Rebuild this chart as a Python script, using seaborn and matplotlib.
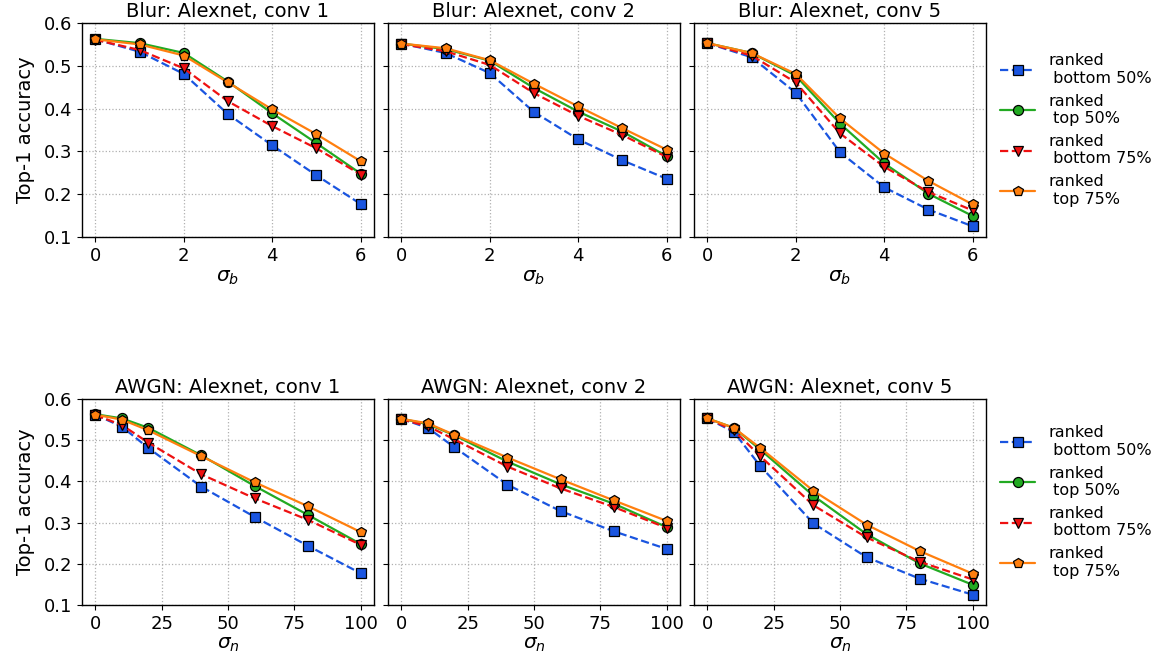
import matplotlib
matplotlib.use("Agg")
import matplotlib.pyplot as plt
import seaborn as sns
import pandas as pd

# Degradation levels
sigma_blur = [0, 1, 2, 3, 4, 5, 6]
sigma_noise = [0, 10, 20, 40, 60, 80, 100]

layers = ["conv 1", "conv 2", "conv 5"]
series_names = ["ranked\n bottom 50%", "ranked\n top 50%", "ranked\n bottom 75%", "ranked\n top 75%"]

# Top-1 accuracy per layer (order: bottom 50%, top 50%, bottom 75%, top 75%)
conv1_bottom50 = [0.562, 0.533, 0.481, 0.387, 0.314, 0.244, 0.177]
conv1_top50 = [0.563, 0.553, 0.530, 0.463, 0.389, 0.319, 0.248]
conv1_bottom75 = [0.561, 0.537, 0.494, 0.417, 0.359, 0.307, 0.246]
conv1_top75 = [0.562, 0.550, 0.524, 0.461, 0.398, 0.340, 0.277]

conv2_bottom50 = [0.552, 0.530, 0.483, 0.392, 0.328, 0.279, 0.236]
conv2_top50 = [0.552, 0.539, 0.512, 0.448, 0.393, 0.346, 0.289]
conv2_bottom75 = [0.551, 0.534, 0.502, 0.436, 0.383, 0.338, 0.287]
conv2_top75 = [0.552, 0.541, 0.513, 0.458, 0.405, 0.354, 0.304]

conv5_bottom50 = [0.553, 0.520, 0.437, 0.298, 0.216, 0.164, 0.125]
conv5_top50 = [0.553, 0.530, 0.477, 0.365, 0.272, 0.201, 0.149]
conv5_bottom75 = [0.553, 0.524, 0.461, 0.342, 0.264, 0.205, 0.162]
conv5_top75 = [0.553, 0.530, 0.481, 0.377, 0.295, 0.231, 0.176]

acc = {
    "conv 1": [conv1_bottom50, conv1_top50, conv1_bottom75, conv1_top75],
    "conv 2": [conv2_bottom50, conv2_top50, conv2_bottom75, conv2_top75],
    "conv 5": [conv5_bottom50, conv5_top50, conv5_bottom75, conv5_top75],
}

colors = ["#1a55e0", "#22aa22", "#ee1111", "#ff7f0e"]
markers = ["s", "o", "v", "p"]
linestyles = ["--", "-", "--", "-"]
msizes = [7.2, 7.2, 7.8, 7.8]

sns.set_style("ticks")
plt.rcParams["font.family"] = ["DejaVu Sans"]
plt.rcParams["mathtext.fontset"] = "dejavusans"
for key in ["text.color", "axes.labelcolor", "xtick.color", "ytick.color"]:
    plt.rcParams[key] = "black"

W, H = 1157, 659
fig = plt.figure(figsize=(W / 100, H / 100), dpi=100)

col_px = [(82, 374), (388, 680), (694, 986)]
row_px = [(23, 237), (399, 605)]
rows = [("Blur", sigma_blur, r"$\sigma_b$", [0, 2, 4, 6]),
        ("AWGN", sigma_noise, r"$\sigma_n$", [0, 25, 50, 75, 100])]

for r, (kind, xs, xlabel, xticks) in enumerate(rows):
    top, bot = row_px[r]
    for c, layer in enumerate(layers):
        l, rr = col_px[c]
        ax = fig.add_axes([l / W, 1 - bot / H, (rr - l) / W, (bot - top) / H])
        for k, name in enumerate(series_names):
            df = pd.DataFrame({"sigma": xs, "acc": acc[layer][k]})
            sns.lineplot(data=df, x="sigma", y="acc", ax=ax, legend=False,
                         color=colors[k], marker=markers[k], linestyle=linestyles[k],
                         markersize=msizes[k], markeredgecolor="black",
                         markeredgewidth=0.9, linewidth=1.6, label=name)
        ax.set_ylim(0.1, 0.6)
        ax.set_yticks([0.1, 0.2, 0.3, 0.4, 0.5, 0.6])
        ax.set_xticks(xticks)
        ax.grid(True, linestyle=":", color="#b0b0b0", linewidth=0.9)
        ax.set_title(f"{kind}: Alexnet, {layer}", fontsize=14, pad=4)
        ax.set_xlabel(xlabel, fontsize=14.5, labelpad=2)
        ax.tick_params(labelsize=13, length=3.5, width=0.8)
        for s in ax.spines.values():
            s.set_color("black")
            s.set_linewidth(1.0)
        if c == 0:
            ax.set_ylabel("Top-1 accuracy", fontsize=14, labelpad=6)
            ax.yaxis.set_major_formatter(matplotlib.ticker.FormatStrFormatter("%.1f"))
        else:
            ax.set_ylabel("")
            ax.set_yticklabels([])
        if c == 2:
            handles, labels = ax.get_legend_handles_labels()
            ax.legend(handles, labels, loc="center left", bbox_to_anchor=(1.01, 0.5),
                      frameon=False, fontsize=11.5, handlelength=2.2,
                      labelspacing=0.5, borderaxespad=0.3)

fig.savefig("out.png", dpi=100)
